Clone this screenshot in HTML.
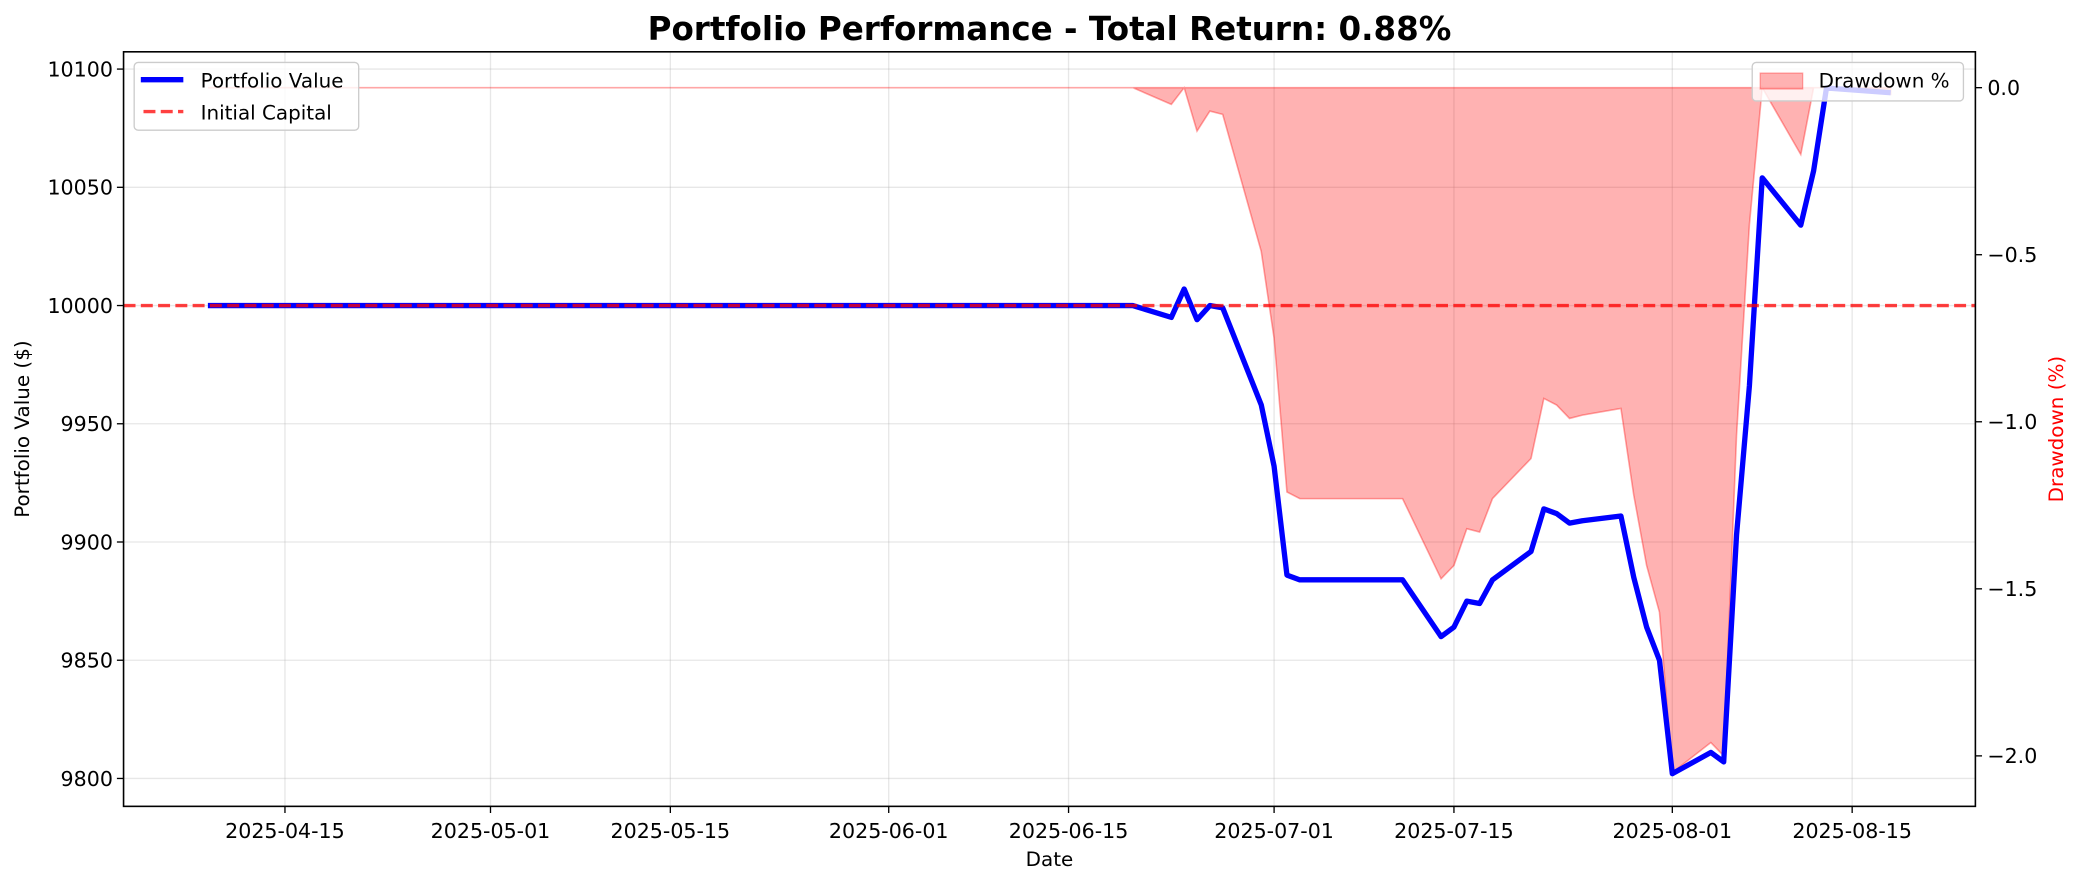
<!DOCTYPE html>
<html><head><meta charset="utf-8"><style>
html,body{margin:0;padding:0;background:#fff;}
svg{display:block;font-family:"DejaVu Sans","Liberation Sans",sans-serif;}
</style></head><body>
<svg id="chart" width="2083" height="885" viewBox="0 0 1568 666.2" xmlns="http://www.w3.org/2000/svg">
<rect x="0" y="0" width="1568" height="666.2" fill="#fff"/>
<g id="grid"></g>
<g id="fill"></g>
<g id="lines"></g>
<g id="axes"></g>
<text x="790" y="30" text-anchor="middle" font-size="24.5" font-weight="bold">Portfolio Performance - Total Return: 0.88%</text>
<text x="790" y="652" text-anchor="middle" font-size="15">Date</text>
<text transform="translate(22,323) rotate(-90)" text-anchor="middle" font-size="15">Portfolio Value ($)</text>
<text transform="translate(1553,323) rotate(-90)" text-anchor="middle" font-size="15" fill="#ff0000">Drawdown (%)</text>
<g>
<rect x="101" y="47" width="169" height="51" rx="3" fill="#fff" fill-opacity="0.8" stroke="#ccc" stroke-width="1"/>
<line x1="106" y1="60" x2="138" y2="60" stroke="#0000ff" stroke-width="4"/>
<text x="151" y="66" font-size="15">Portfolio Value</text>
<line x1="108" y1="84" x2="138" y2="84" stroke="#ff0000" stroke-opacity="0.75" stroke-width="2.5" stroke-dasharray="9,4"/>
<text x="151" y="90" font-size="15">Initial Capital</text>
</g>
<g>
<rect x="1319" y="47" width="159" height="29" rx="3" fill="#fff" fill-opacity="0.8" stroke="#ccc" stroke-width="1"/>
<rect x="1325" y="55" width="32" height="12" fill="#ff0000" fill-opacity="0.3" stroke="#ff0000" stroke-opacity="0.3"/>
<text x="1369" y="66" font-size="15">Drawdown %</text>
</g>
</svg>
<script>
const dates = ["2025-04-09","2025-06-20","2025-06-23","2025-06-24","2025-06-25","2025-06-26","2025-06-27","2025-06-30","2025-07-01","2025-07-02","2025-07-03","2025-07-11","2025-07-14","2025-07-15","2025-07-16","2025-07-17","2025-07-18","2025-07-21","2025-07-22","2025-07-23","2025-07-24","2025-07-25","2025-07-28","2025-07-29","2025-07-30","2025-07-31","2025-08-01","2025-08-04","2025-08-05","2025-08-06","2025-08-07","2025-08-08","2025-08-11","2025-08-12","2025-08-13","2025-08-18"];
const portfolioValues = [10000,10000,9995,10007,9994,10000,9999,9958,9932,9886,9884,9884,9860,9864,9875,9874,9884,9896,9914,9912,9908,9909,9911,9885,9864,9850,9802,9811,9807,9903,9966,10054,10034,10057,10092,10090];
const drawdownPct = [0,0,-0.05,0,-0.13,-0.07,-0.08,-0.49,-0.75,-1.21,-1.23,-1.23,-1.47,-1.43,-1.32,-1.33,-1.23,-1.11,-0.93,-0.95,-0.99,-0.98,-0.96,-1.22,-1.43,-1.57,-2.05,-1.96,-2.0,-1.04,-0.41,0,-0.2,0,0,-0.02];
const initialCapital = 10000;
const xTickLabels = ["2025-04-15","2025-05-01","2025-05-15","2025-06-01","2025-06-15","2025-07-01","2025-07-15","2025-08-01","2025-08-15"];
const yTickLabels = [9800,9850,9900,9950,10000,10050,10100];
const y2TickLabels = [0,-0.5,-1,-1.5,-2];

const NS="http://www.w3.org/2000/svg";
const L=93,R=1487,T=39,B=607;
const base=Date.UTC(2025,3,15);
function dayOf(s){const p=s.split("-");return (Date.UTC(+p[0],+p[1]-1,+p[2])-base)/86400000;}
function xS(s){return 214.5+dayOf(s)*9.67;}
function yS(v){return 586-(v-9800)*1.78;}
function y2S(d){return 66-d*251.5;}
function mk(tag,attrs,parent){const e=document.createElementNS(NS,tag);for(const k in attrs)e.setAttribute(k,attrs[k]);parent.appendChild(e);return e;}
const grid=document.getElementById("grid"),fillG=document.getElementById("fill"),lines=document.getElementById("lines"),axes=document.getElementById("axes");

xTickLabels.forEach(s=>{const x=xS(s);
 const g=mk("line",{x1:x,x2:x,y1:T,y2:B,stroke:"#b0b0b0","stroke-opacity":0.3,"stroke-width":1},grid);
 
 
 const t=mk("line",{x1:x,x2:x,y1:B,y2:B+5,stroke:"#000","stroke-width":1},axes);
 
 
 const l=mk("text",{x:x,y:B+24,"text-anchor":"middle","font-size":15.5},axes);l.textContent=s;
 
 
});
yTickLabels.forEach(v=>{const y=yS(v);
 const g=mk("line",{x1:L,x2:R,y1:y,y2:y,stroke:"#b0b0b0","stroke-opacity":0.3,"stroke-width":1},grid);
 
 
 const t=mk("line",{x1:L-5,x2:L,y1:y,y2:y,stroke:"#000","stroke-width":1},axes);
 
 
 const l=mk("text",{x:L-8,y:y+5.5,"text-anchor":"end","font-size":15.5},axes);l.textContent=String(v);
 
 
});
y2TickLabels.forEach(v=>{const y=y2S(v);
 const t=mk("line",{x1:R,x2:R+5,y1:y,y2:y,stroke:"#000","stroke-width":1},axes);
 
 
 const l=mk("text",{x:R+9,y:y+5.5,"font-size":15.5},axes);l.textContent=(v<0?"\u2212":"")+Math.abs(v).toFixed(1);
 
 
});
let d="M"+xS(dates[0])+","+y2S(0);
dates.forEach((s,i)=>{d+=" L"+xS(s)+","+y2S(drawdownPct[i]);});
d+=" L"+xS(dates[dates.length-1])+","+y2S(0)+" Z";
const area=mk("path",{d:d,fill:"#ff0000","fill-opacity":0.3,stroke:"#ff0000","stroke-opacity":0.35,"stroke-width":1.2},fillG);


const pts=dates.map((s,i)=>xS(s)+","+yS(portfolioValues[i])).join(" ");
const pl=mk("polyline",{points:pts,fill:"none",stroke:"#0000ff","stroke-width":4,"stroke-linejoin":"round"},lines);


const ic=mk("line",{x1:L,x2:R,y1:yS(initialCapital),y2:yS(initialCapital),stroke:"#ff0000","stroke-opacity":0.75,"stroke-width":2.5,"stroke-dasharray":"9,4"},lines);


const fr=mk("rect",{x:L,y:T,width:R-L,height:B-T,fill:"none",stroke:"#000","stroke-width":1.2},axes);


</script>
</body></html>
